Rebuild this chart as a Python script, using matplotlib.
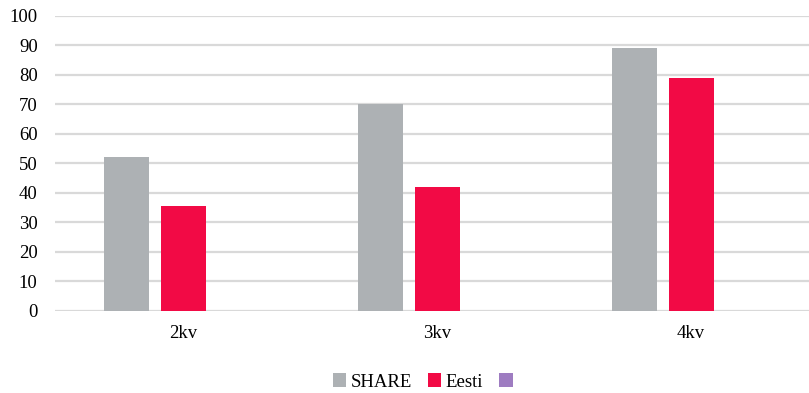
import matplotlib
matplotlib.use("Agg")
import matplotlib.pyplot as plt
from matplotlib.patches import Patch
import numpy as np

# Quarterly values per series
categories = ["2kv", "3kv", "4kv"]
share_values = [52, 70, 89]
eesti_values = [35.5, 42, 79]
third_values = [None, None, None]  # third series has no values

series_names = ["SHARE", "Eesti", ""]
series_colors = ["#adb1b4", "#f20a45", "#9e7cc1"]

plt.rcParams["font.family"] = ["Liberation Serif", "DejaVu Serif"]

W, H = 809, 393
fig = plt.figure(figsize=(W / 100, H / 100), dpi=100)
left_px, right_px = 55, 809
top_px, bottom_px = 15.7, 310.8
ax = fig.add_axes([left_px / W, 1 - bottom_px / H,
                   (right_px - left_px) / W, (bottom_px - top_px) / H])

unit_px = 254.0
x0 = -(183 - left_px) / unit_px
ax.set_xlim(x0, x0 + (right_px - left_px) / unit_px)
ax.set_ylim(0, 100)

x = np.arange(len(categories))
bar_w = 45 / unit_px
step = 57 / unit_px
all_series = [share_values, eesti_values, third_values]
for i, (vals, color) in enumerate(zip(all_series, series_colors)):
    heights = [v if v is not None else 0 for v in vals]
    ax.bar(x + (i - 1) * step, heights, width=bar_w, color=color,
           zorder=3, linewidth=0)

ax.set_yticks(np.arange(0, 101, 10))
ax.yaxis.grid(True, color="#d9d9d9", linewidth=1.6, zorder=0)
ax.set_axisbelow(True)
ax.set_xticks(x)
ax.set_xticklabels(categories)
for s in ax.spines.values():
    s.set_visible(False)
ax.tick_params(axis="y", length=0, pad=12.5, labelsize=13.5, colors="#000000")
ax.tick_params(axis="x", length=0, pad=10, labelsize=13.5, colors="#000000")

handles = [Patch(facecolor=c, edgecolor="none", label=n)
           for n, c in zip(series_names, series_colors)]
fig.legend(handles=handles, loc="center left", bbox_to_anchor=(333 / W, 1 - 382 / H),
           ncol=3, frameon=False, fontsize=13.5, handlelength=0.7,
           handleheight=0.7, handletextpad=0.25, columnspacing=0.85,
           borderaxespad=0, borderpad=0)

fig.savefig("out.png", dpi=100)
